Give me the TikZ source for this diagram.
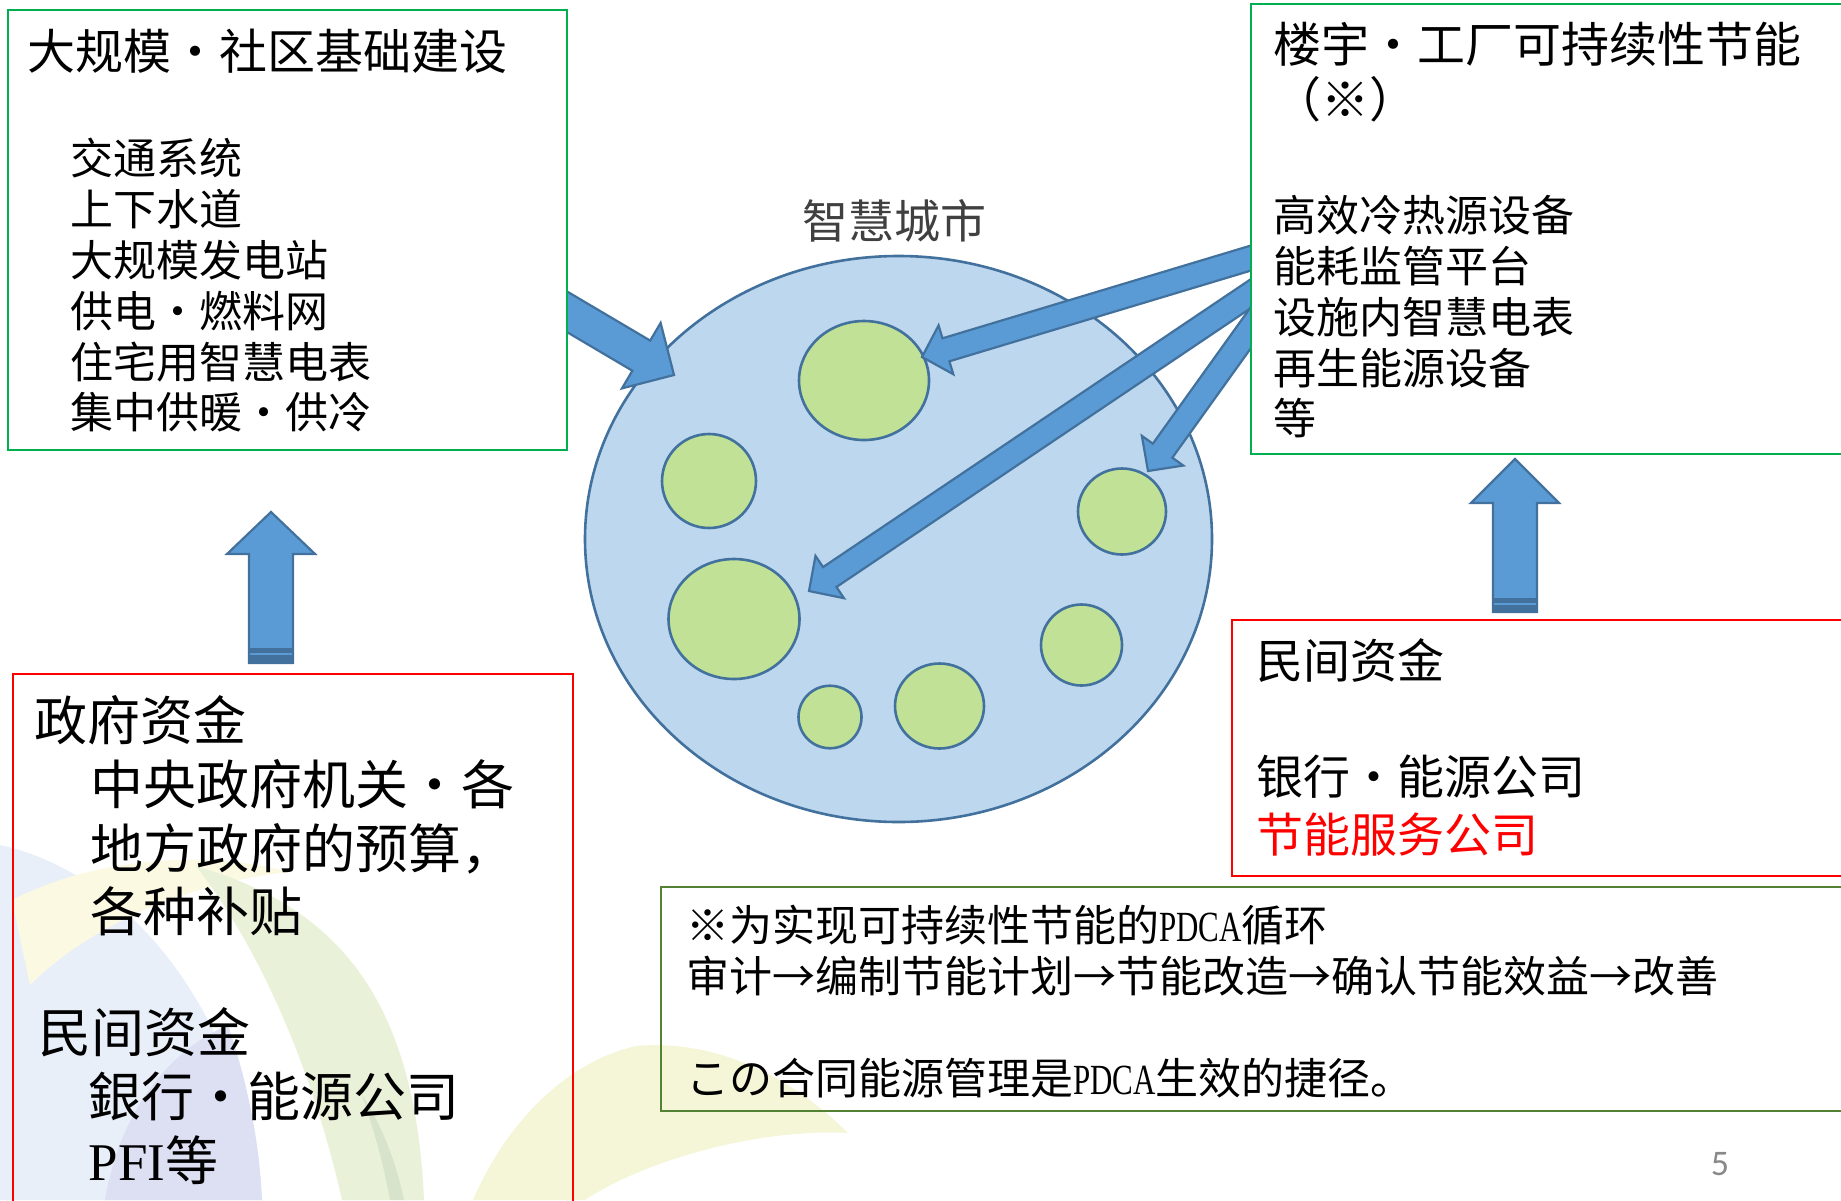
\documentclass[tikz,border=0pt]{standalone}
\usepackage{fontspec}
\setmainfont{Noto Sans CJK SC}
\newfontfamily\pfifont{Liberation Serif}
\newfontfamily\pdcafont{Liberation Serif}[FakeStretch=0.72]
\newfontfamily\pagefont{Carlito}
\usetikzlibrary{shapes.geometric,calc}

\definecolor{arrowblue}{RGB}{91,155,213}
\definecolor{edgeblue}{RGB}{65,113,156}
\definecolor{cityblue}{RGB}{189,215,238}
\definecolor{zonegreen}{RGB}{192,225,150}
\definecolor{boxgreen}{RGB}{0,176,80}
\definecolor{boxolive}{RGB}{84,130,53}
\definecolor{pagegray}{RGB}{137,137,137}
\definecolor{leafblue}{RGB}{233,239,249}
\definecolor{leafviolet}{RGB}{221,224,243}
\definecolor{leafyellow}{RGB}{251,249,226}
\definecolor{leafgreen}{RGB}{234,241,217}
\definecolor{leafridge}{RGB}{216,227,204}
\definecolor{leaflime}{RGB}{244,246,215}

\tikzset{
  panel/.style={draw, line width=1pt, outer sep=0pt, inner sep=0pt, anchor=north west},
  greenbox/.style={panel, draw=boxgreen, fill=white},
  redbox/.style={panel, draw=red},
  olivebox/.style={panel, draw=boxolive},
  cityblob/.style={ellipse, draw=edgeblue, fill=cityblue, line width=1.3pt, inner sep=0pt},
  zone/.style={ellipse, draw=edgeblue, fill=zonegreen, line width=1.3pt, inner sep=0pt},
  fatarrow/.style={draw=edgeblue, fill=arrowblue, line width=1.1pt, line join=miter},
  blocktext/.style={anchor=north west, inner sep=0pt, align=left},
  headtext/.style={blocktext, font=\fontsize{24pt}{27.5pt}\selectfont},
  listtext/.style={blocktext, font=\fontsize{21.5pt}{25.4pt}\selectfont},
  fundtext/.style={blocktext, font=\fontsize{26.5pt}{31.9pt}\selectfont},
  privtext/.style={blocktext, font=\fontsize{23.5pt}{29pt}\selectfont},
}

\newcommand{\blockarrow}[5]{%
  \coordinate (ba-neck) at ($(#2)!#5!(#1)$);
  \path[fatarrow] ($(#1)!#3!90:(#2)$) -- ($(ba-neck)!#3!-90:(#1)$) -- ($(ba-neck)!#4!-90:(#1)$)
    -- (#2) -- ($(ba-neck)!#4!90:(#1)$) -- ($(ba-neck)!#3!90:(#1)$)
    -- ($(#1)!#3!-90:(#2)$) -- cycle;
}

\begin{document}
\begin{tikzpicture}[x=0.5pt,y=-0.5pt]
\useasboundingbox (0,0) rectangle (1841,1200);
\clip (0,0) rectangle (1841,1200);

\fill[leafblue] (0,845) .. controls (110,868) and (235,985) .. (262,1200) -- (0,1200) -- cycle;
\fill[leafviolet] (105,1200) .. controls (120,1110) and (170,1050) .. (228,1025) .. controls (250,1090) and (260,1150) .. (262,1200) -- cycle;
\fill[leafyellow] (12,900) .. controls (90,860) and (200,848) .. (290,872) .. controls (190,882) and (90,925) .. (30,985) -- cycle;
\fill[leafgreen] (196,866) .. controls (330,905) and (415,990) .. (424,1200) -- (342,1200) .. controls (315,1080) and (265,955) .. (196,866) -- cycle;
\fill[leafridge] (362,1095) .. controls (385,1130) and (398,1170) .. (404,1200) -- (390,1200) .. controls (383,1160) and (372,1125) .. (362,1095) -- cycle;
\fill[leaflime] (473,1200) .. controls (505,1125) and (565,1062) .. (636,1046) .. controls (730,1038) and (805,1090) .. (848,1133) .. controls (760,1128) and (645,1160) .. (585,1200) -- cycle;

\node[cityblob, minimum width=313.5pt, minimum height=283pt] (city) at (898.5,539) {};
\node[zone, minimum width=65pt, minimum height=59.5pt] (z1) at (864,380.5) {};
\node[zone, minimum width=47pt, minimum height=47pt] (z2) at (709,481) {};
\node[zone, minimum width=65.5pt, minimum height=60pt] (z3) at (734,619) {};
\node[zone, minimum width=44pt, minimum height=43pt] (z4) at (1122,511.5) {};
\node[zone, minimum width=40.5pt, minimum height=40.5pt] (z5) at (1081.5,645) {};
\node[zone, minimum width=44.5pt, minimum height=42.5pt] (z6) at (939.5,706) {};
\node[zone, minimum width=31.5pt, minimum height=31.25pt] (z7) at (830,717) {};
\node[font=\fontsize{23pt}{27pt}\selectfont, text=black!75] (citylabel) at (894,221) {智慧城市};

\coordinate (tA) at (1281,249);
\coordinate (hA) at (922,357);
\coordinate (tB) at (1277,276);
\coordinate (hB) at (809,591);
\coordinate (tC) at (1269.5,301.6);
\coordinate (hC) at (1148,471);
\coordinate (tD) at (542,297);
\coordinate (hD) at (674,375);
\blockarrow{tD}{hD}{8.75pt}{19pt}{19pt}
\blockarrow{tA}{hA}{6pt}{12.75pt}{12.5pt}
\blockarrow{tB}{hB}{6pt}{12.75pt}{12.5pt}
\blockarrow{tC}{hC}{6pt}{12.75pt}{12.5pt}

\node[greenbox, minimum width=279.5pt, minimum height=220pt] (infra) at (8,10) {};
\node[greenbox, minimum width=300pt, minimum height=225pt] (building) at (1251,4) {};
\node[redbox, minimum width=280pt, minimum height=270pt] (govfund) at (13,674) {};
\node[redbox, minimum width=310pt, minimum height=128pt] (privfund) at (1232,620) {};
\node[olivebox, minimum width=595pt, minimum height=112pt] (pdca) at (661,887) {};

\coordinate (govtail) at (271,663);
\coordinate (govtip) at (271,512);
\coordinate (privtail) at (1515,612);
\coordinate (privtip) at (1515,459);
\blockarrow{govtail}{govtip}{11pt}{22pt}{21pt}
\blockarrow{privtail}{privtip}{11pt}{22pt}{22pt}
\path[fill=edgeblue] (249.5,648) rectangle (292.5,663);
\path[draw=arrowblue, line width=0.8pt] (250,654) -- (292,654);
\path[fill=edgeblue] (1493.5,598) rectangle (1536.5,612);
\path[draw=arrowblue, line width=0.8pt] (1494,604) -- (1536,604);

\node[headtext] (infratitle) at (27,29) {大规模・社区基础建设};
\node[listtext] (infralist) at (70,138) {交通系统\\上下水道\\大规模发电站\\供电・燃料网\\住宅用智慧电表\\集中供暖・供冷};
\node[headtext] (buildtitle) at (1273,22) {楼宇・工厂可持续性节能\\（※）};
\node[listtext] (buildlist) at (1273,195) {高效冷热源设备\\能耗监管平台\\设施内智慧电表\\再生能源设备\\等};
\node[fundtext] (govtext) at (34,695) {政府资金\\\hspace*{1.05em}中央政府机关・各\\\hspace*{1.05em}地方政府的预算，\\\hspace*{1.05em}各种补贴};
\node[fundtext] (govpriv) at (38,1007) {民间资金\\\hspace*{0.95em}銀行・能源公司\\\hspace*{0.95em}{\pfifont PFI}等};
\node[privtext] (privtext) at (1256,638) {民间资金\\[29pt]银行・能源公司\\{\color{red}节能服务公司}};
\node[listtext] (pdcatext) at (686,905) {※为实现可持续性节能的{\pdcafont PDCA}循环\\审计→编制节能计划→节能改造→确认节能效益→改善\\[25.5pt]この合同能源管理是{\pdcafont PDCA}生效的捷径。};
\node[font=\pagefont\fontsize{18pt}{20pt}\selectfont, text=pagegray] (pageno) at (1720,1164) {5};
\end{tikzpicture}
\end{document}
